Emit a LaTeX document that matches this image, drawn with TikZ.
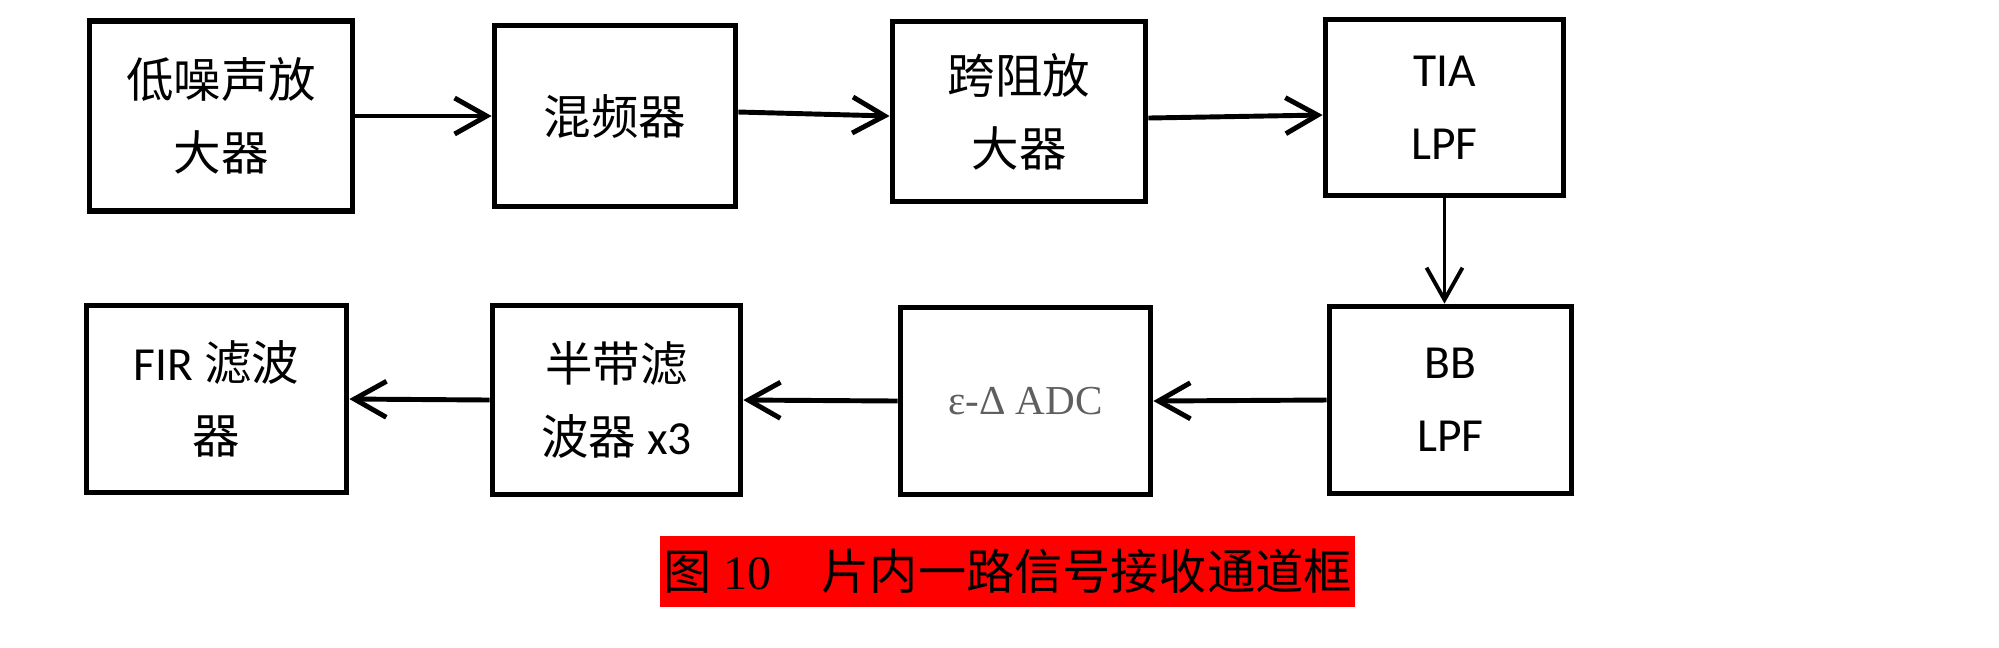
\documentclass[tikz,border=0pt]{standalone}
\usepackage{fontspec}
\setmainfont{Carlito}
\newfontfamily\cjk{Noto Sans CJK SC}
\newfontfamily\tms{Liberation Serif}
\usetikzlibrary{arrows.meta}
\definecolor{adcgray}{RGB}{95,95,95}
\tikzset{
blk/.style 2 args={draw,line width=1.6pt,minimum width=#1,minimum height=#2,
  align=center,inner sep=0pt,font=\fontsize{13.5pt}{20.8pt}\selectfont},
sig/.style={line width=1.4pt,-{Straight Barb[length=0.32cm,width=0.36cm]}}
}

\begin{document}
\begin{tikzpicture}[x=0.01cm,y=-0.01cm]
\useasboundingbox (0,0) rectangle (1999,647);
% first row
\node[blk={2.63cm}{1.90cm}] (lna) at (221,116) {\cjk 低噪声放\\\cjk 大器};
\node[blk={2.41cm}{1.81cm}] (mixer) at (615,116) {\cjk 混频器};
\node[blk={2.53cm}{1.80cm}] (tia) at (1019,111.5) {\cjk 跨阻放\\\cjk 大器};
\node[blk={2.38cm}{1.76cm}] (tialpf) at (1444.5,107.5) {TIA\\LPF};
% second row
\node[blk={2.42cm}{1.87cm}] (bblpf) at (1450.5,400) {BB\\LPF};
\node[blk={2.50cm}{1.87cm}] (adc) at (1025.5,401)
  {\tms\fontsize{11.7pt}{14pt}\selectfont\color{adcgray}ε-Δ ADC};
\node[blk={2.48cm}{1.89cm}] (hbf) at (616.5,400) {{\cjk 半带滤}\\{\cjk 波器} x3};
\node[blk={2.60cm}{1.87cm}] (fir) at (216.5,399) {FIR {\cjk 滤波}\\{\cjk 器}};
%caption
\node[fill=red,minimum width=6.95cm,minimum height=0.71cm,inner sep=0pt,
  font=\fontsize{13.7pt}{16pt}\selectfont] (cap) at (1007.5,571.5)
  {{\cjk 图}\hspace{0.12cm}{\tms 10}\hspace{0.5cm}{\cjk 片内一路信号接收通道框}};

\draw[sig] (lna.east) -- (mixer.west);
\draw[sig] ([yshift=0.04cm]mixer.east) -- ([yshift=-0.045cm]tia.west);
\draw[sig] ([yshift=-0.065cm]tia.east) -- ([yshift=-0.075cm]tialpf.west);
\draw[sig,line width=1.1pt] (tialpf.south) -- (tialpf.south |- bblpf.north);
\draw[sig] (bblpf.west) -- (adc.east);
\draw[sig] (adc.west) -- (hbf.east);
\draw[sig] (hbf.west) -- (fir.east);
\end{tikzpicture}
\end{document}
